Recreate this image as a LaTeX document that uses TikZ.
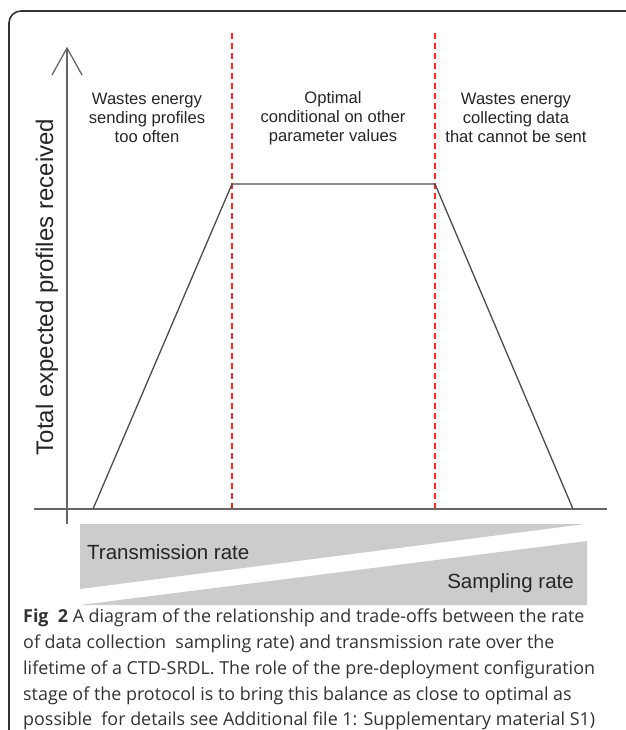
\documentclass[tikz,border=0pt]{standalone}
\usepackage{fontspec}
\setmainfont{Liberation Sans}
\newfontfamily\capfont{Open Sans}
\begin{document}
\begin{tikzpicture}[x=1pt,y=-1pt,
  frame/.style={draw=black!80, line width=1.6pt, rounded corners=12pt},
  axis/.style={draw=black!60, line width=1.3pt},
  curve/.style={draw=black!70, line width=1.3pt, line join=miter},
  divider/.style={draw=red!85!white, line width=1.2pt, dash pattern=on 6pt off 4pt},
  lbl/.style={font=\fontsize{16.6}{19.2}\selectfont, align=center, text=black!85, inner sep=0pt},
  wedge/.style={fill=black!20, draw=none},
  wlbl/.style={font=\fontsize{20.5}{24}\selectfont, text=black!85, inner sep=0pt},
  captext/.style={font=\capfont\fontsize{17.9}{22}\selectfont, text=black!80, anchor=west, inner sep=0pt}]
\useasboundingbox (0,0) rectangle (625,730);
\fill[white] (0,0) rectangle (625,730);
% frame
\draw[frame] (9,731) -- (9,11) -- (626,11);
% red dividers
\draw[divider] (232,33) -- (232,509);
\draw[divider] (435,33) -- (435,509);
% axes
\draw[axis] (67,524) -- (67,48);
\draw[axis] (52,75) -- (67,48) -- (82,75);
\draw[axis] (34,509) -- (607,509);
% trapezoid
\coordinate (p1) at (93,509);
\coordinate (p2) at (232,184);
\coordinate (p3) at (435,184);
\coordinate (p4) at (573,509);
\draw[curve] (p1) -- (p2) -- (p3) -- (p4);
% region labels
\node[lbl] (l1) at (147,118) {Wastes energy\\sending profiles\\too often};
\node[lbl] (l2) at (333,118) {Optimal\\conditional on other\\parameter values};
\node[lbl] (l3) at (516,118) {Wastes energy\\collecting data\\that cannot be sent};
% y label
\node[font=\fontsize{24}{28}\selectfont, text=black!85, rotate=90, inner sep=0pt] (yl) at (47,287) {Total expected profiles received};
% wedges
\fill[wedge] (80,524) -- (585,524) -- (80,589) -- cycle;
\fill[wedge] (587,541) -- (587,605) -- (80,605) -- cycle;
\node[wlbl, anchor=west] (tr) at (87,552) {Transmission rate};
\node[wlbl, anchor=east] (sr) at (574,583) {Sampling rate};
% caption
\node[captext] (c1) at (23,618) {{\bfseries Fig\ \ 2} A diagram of the relationship and trade-offs between the rate};
\node[captext] (c2) at (23,644) {of data collection\ \ sampling rate) and transmission rate over the};
\node[captext] (c3) at (23,670) {lifetime of a CTD-SRDL. The role of the pre-deployment configuration};
\node[captext] (c4) at (23,695.5) {stage of the protocol is to bring this balance as close to optimal as};
\node[captext] (c5) at (23,720.5) {possible\ \ for details see Additional file 1: Supplementary material S1)};
\end{tikzpicture}
\end{document}
